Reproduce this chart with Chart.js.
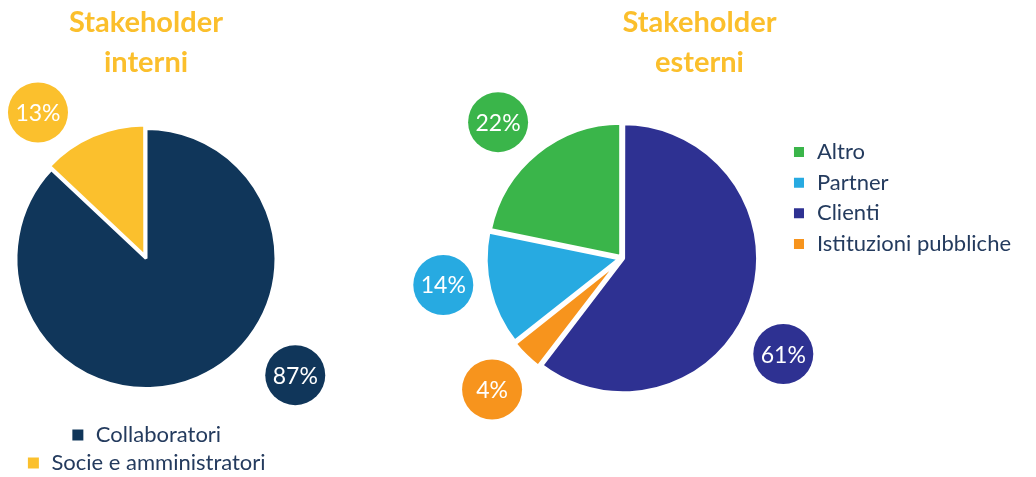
<!DOCTYPE html>
<html>
<head>
<meta charset="utf-8">
<script src="https://cdn.jsdelivr.net/npm/chart.js@4.4.0/dist/chart.umd.min.js"></script>
<style>
  html, body { margin: 0; padding: 0; background: #fff; overflow: hidden; }
  body { width: 1036px; height: 477px; position: relative; }
  #interni { position: absolute; left: 0; top: 0; }
  #esterni { position: absolute; left: 380px; top: 0; }
</style>
</head>
<body>
<canvas id="interni" width="340" height="484"></canvas>
<canvas id="esterni" width="656" height="477"></canvas>
<script>
// dati
const interniLabels = ['Collaboratori', 'Socie e amministratori'];
const interniValues = [87, 13];
const interniColors = ['#10365A', '#FBC02D'];

const esterniLabels = ['Clienti', 'Istituzioni pubbliche', 'Partner', 'Altro'];
const esterniValues = [61, 4, 14, 22];
const esterniColors = ['#2E3192', '#F7941D', '#27AAE1', '#3AB54A'];
const esterniLegendOrder = ['Altro', 'Partner', 'Clienti', 'Istituzioni pubbliche'];

const titleColor = '#FBBF2C';
const textColor = '#243B5E';
const FONT = 'Lato, "Open Sans", sans-serif';

// bollini con la percentuale, fuori dalla torta
const bubbles = {
  id: 'bubbles',
  afterDatasetsDraw(chart, args, opts) {
    const ctx = chart.ctx;
    const meta = chart.getDatasetMeta(0);
    const values = chart.data.datasets[0].data;
    const colors = chart.data.datasets[0].backgroundColor;
    meta.data.forEach((arc, i) => {
      const p = arc.getProps(['x', 'y', 'outerRadius'], true);
      const a = opts.angles[i] * Math.PI / 180;
      const d = opts.dist[i] * p.outerRadius;
      const cx = p.x + Math.cos(a) * d;
      const cy = p.y + Math.sin(a) * d;
      ctx.save();
      ctx.beginPath();
      ctx.arc(cx, cy, opts.radius, 0, Math.PI * 2);
      ctx.fillStyle = colors[i];
      ctx.fill();
      ctx.fillStyle = '#fff';
      ctx.font = '23px ' + FONT;
      ctx.textAlign = 'center';
      ctx.textBaseline = 'middle';
      ctx.fillText(values[i] + '%', cx, cy + 1);
      ctx.restore();
    });
  }
};

// la legenda a destra e' stretta per centrare la torta, ma il testo deve uscire dal box
const wideLegend = {
  id: 'wideLegend',
  afterLayout(chart) {
    const l = chart.legend;
    l.right = chart.width;
    l.width = l.right - l.left;
  }
};

new Chart(document.getElementById('interni'), {
  type: 'pie',
  data: {
    labels: interniLabels,
    datasets: [{
      data: interniValues,
      backgroundColor: interniColors,
      borderColor: '#fff',
      borderWidth: 3,
      offset: [0, 12]
    }]
  },
  plugins: [bubbles],
  options: {
    responsive: false,
    animation: false,
    events: [],
    radius: 130,
    layout: { padding: { left: 0, right: 48, top: 0, bottom: 0 } },
    plugins: {
      title: {
        display: true,
        text: ['Stakeholder', 'interni'],
        color: titleColor,
        font: { family: FONT, size: 29, weight: 'bold', lineHeight: 1.38 },
        padding: { top: 3, bottom: 16 }
      },
      legend: {
        position: 'bottom',
        labels: {
          boxWidth: 14, boxHeight: 14, padding: 6,
          color: textColor,
          font: { family: FONT, size: 22 }
        }
      },
      tooltip: { enabled: false },
      bubbles: {
        angles: [38, -126.5],
        dist: [1.457, 1.397],
        radius: 30
      }
    }
  }
});

new Chart(document.getElementById('esterni'), {
  type: 'pie',
  data: {
    labels: esterniLabels,
    datasets: [{
      data: esterniValues,
      backgroundColor: esterniColors,
      borderColor: '#fff',
      borderWidth: 4,
      offset: [4, 8, 8, 6]
    }]
  },
  plugins: [bubbles, wideLegend],
  options: {
    responsive: false,
    animation: false,
    events: [],
    radius: 134,
    layout: { padding: { left: 81, right: 98, top: 0, bottom: 81 } },
    plugins: {
      title: {
        display: true,
        text: ['Stakeholder', 'esterni'],
        color: titleColor,
        font: { family: FONT, size: 29, weight: 'bold', lineHeight: 1.38 },
        padding: { top: 3, bottom: 37 }
      },
      legend: {
        position: 'right',
        maxWidth: 154.7,
        labels: {
          boxWidth: 14, boxHeight: 14, padding: 8.67,
          color: textColor,
          font: { family: FONT, size: 22 },
          sort: (a, b) => esterniLegendOrder.indexOf(a.text) - esterniLegendOrder.indexOf(b.text)
        }
      },
      tooltip: { enabled: false },
      bubbles: {
        angles: [30.8, 134.7, 171.4, -132.4],
        dist: [1.4, 1.38, 1.35, 1.373],
        radius: 30
      }
    }
  }
});
</script>
</body>
</html>
